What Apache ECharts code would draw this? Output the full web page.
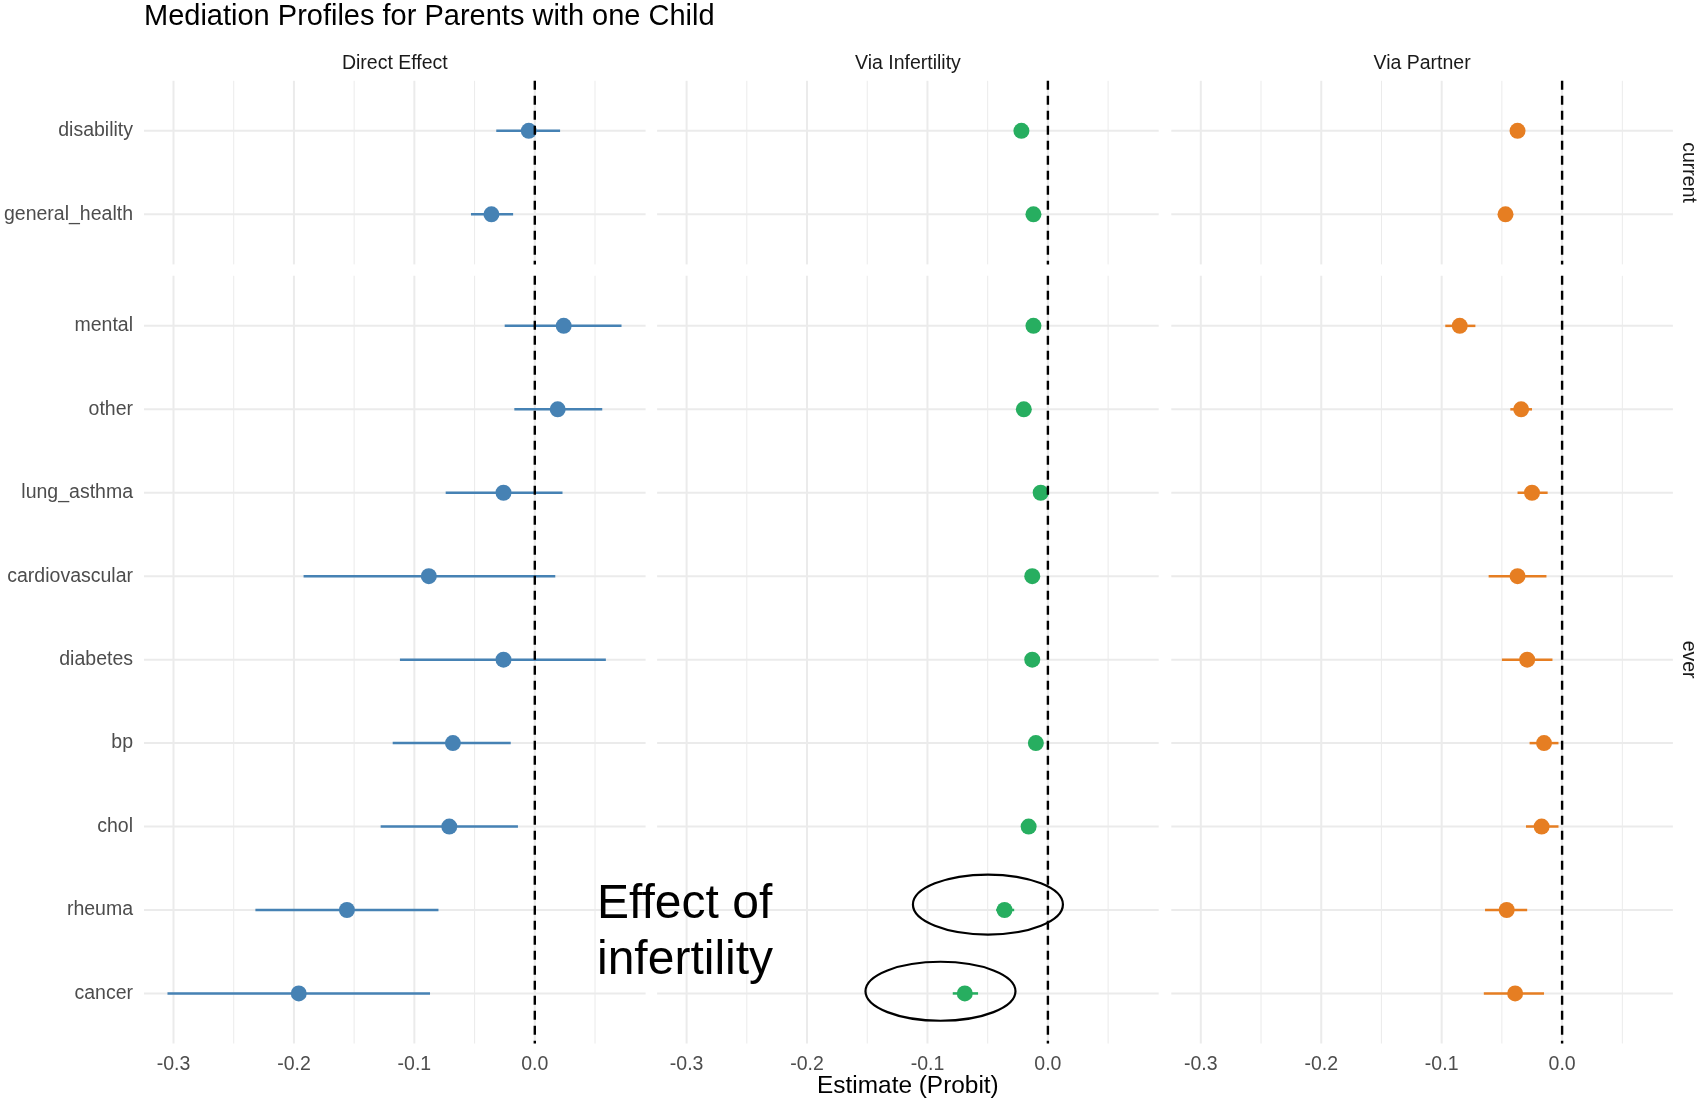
<!DOCTYPE html>
<html><head><meta charset="utf-8">
<script src="https://cdn.jsdelivr.net/npm/echarts@6/dist/echarts.min.js"></script>
<style>html,body{margin:0;padding:0;background:#fff}#c{width:1701px;height:1103px}</style>
</head><body><div id="c"></div>
<script>
// ---------- data ----------
const chartTitle = 'Mediation Profiles for Parents with one Child';
const xAxisTitle = 'Estimate (Probit)';
const panelNames = ['Direct Effect', 'Via Infertility', 'Via Partner'];
const groupNames = ['current', 'ever'];
const currentConditions = ['disability', 'general_health'];
const everConditions = ['mental', 'other', 'lung_asthma', 'cardiovascular', 'diabetes', 'bp', 'chol', 'rheuma', 'cancer'];
const xTickValues = [-0.3, -0.2, -0.1, 0.0];
const xMinorValues = [-0.25, -0.15, -0.05, 0.05];
const annotationLines = ['Effect of', 'infertility'];

// Direct effect
const directCurrentEst  = [-0.005, -0.036];
const directCurrentLow  = [-0.032, -0.053];
const directCurrentHigh = [0.021, -0.018];
const directEverEst  = [0.024, 0.019, -0.026, -0.088, -0.026, -0.068, -0.071, -0.156, -0.196];
const directEverLow  = [-0.025, -0.017, -0.074, -0.192, -0.112, -0.118, -0.128, -0.232, -0.305];
const directEverHigh = [0.072, 0.056, 0.023, 0.017, 0.059, -0.020, -0.014, -0.080, -0.087];

// Via infertility
const infertCurrentEst  = [-0.022, -0.012];
const infertCurrentLow  = [-0.024, -0.014];
const infertCurrentHigh = [-0.020, -0.010];
const infertEverEst  = [-0.012, -0.020, -0.006, -0.013, -0.013, -0.010, -0.016, -0.036, -0.069];
const infertEverLow  = [-0.014, -0.022, -0.008, -0.016, -0.016, -0.012, -0.018, -0.043, -0.079];
const infertEverHigh = [-0.010, -0.018, -0.004, -0.010, -0.010, -0.008, -0.014, -0.028, -0.058];

// Via partner
const partnerCurrentEst  = [-0.037, -0.047];
const partnerCurrentLow  = [-0.040, -0.050];
const partnerCurrentHigh = [-0.034, -0.044];
const partnerEverEst  = [-0.085, -0.034, -0.025, -0.037, -0.029, -0.015, -0.017, -0.046, -0.039];
const partnerEverLow  = [-0.097, -0.043, -0.037, -0.061, -0.050, -0.027, -0.030, -0.064, -0.065];
const partnerEverHigh = [-0.072, -0.025, -0.012, -0.013, -0.008, -0.003, -0.003, -0.029, -0.015];

// ---------- layout / style ----------
const FONT = '"Liberation Sans", Arial, Helvetica, sans-serif';
const panelColors = ['#4682B4', '#27AE60', '#E67E22'];
const XMIN = -0.3245, XMAX = 0.092;
const colLeft = [144, 657.1, 1171.3], colW = 501.6;
const rowTop = [80.8, 275.8], rowH = [183.6, 767.7];

const conds = [currentConditions, everConditions];
const estAll = [[directCurrentEst, infertCurrentEst, partnerCurrentEst], [directEverEst, infertEverEst, partnerEverEst]];
const lowAll = [[directCurrentLow, infertCurrentLow, partnerCurrentLow], [directEverLow, infertEverLow, partnerEverLow]];
const highAll = [[directCurrentHigh, infertCurrentHigh, partnerCurrentHigh], [directEverHigh, infertEverHigh, partnerEverHigh]];

const grids = [], xAxes = [], yAxes = [], series = [];

for (let r = 0; r < 2; r++) {
  const cats = conds[r];
  const n = cats.length;
  for (let c = 0; c < 3; c++) {
    const gi = r * 3 + c;
    grids.push({ left: colLeft[c], top: rowTop[r], width: colW, height: rowH[r], containLabel: false });
    xAxes.push({
      type: 'value', gridIndex: gi, min: XMIN, max: XMAX,
      axisLine: { show: false }, axisTick: { show: false }, splitLine: { show: false },
      axisLabel: {
        show: r === 1, customValues: xTickValues, margin: 11,
        formatter: v => v.toFixed(1), color: '#4D4D4D', fontSize: 19.5, fontFamily: FONT
      }
    });
    yAxes.push({
      type: 'value', gridIndex: gi, min: -0.6, max: n - 0.4, inverse: true,
      axisLine: { show: false }, axisTick: { show: false }, splitLine: { show: false },
      axisLabel: {
        show: c === 0, customValues: cats.map((_, i) => i), margin: 11,
        formatter: v => cats[Math.round(v)], color: '#4D4D4D', fontSize: 19.5, fontFamily: FONT
      }
    });
    // gridlines
    const gridData = [];
    xTickValues.forEach(v => gridData.push([v, 0]));
    xMinorValues.forEach(v => gridData.push([v, 1]));
    cats.forEach((_, i) => gridData.push([i, 2]));
    series.push({
      type: 'custom', xAxisIndex: gi, yAxisIndex: gi, z: 1, silent: true,
      data: gridData,
      renderItem: (params, api) => {
        const v = api.value(0), kind = api.value(1);
        let p1, p2, style;
        if (kind === 2) {
          p1 = api.coord([XMIN, v]); p2 = api.coord([XMAX, v]);
          style = { stroke: '#EBEBEB', lineWidth: 2 };
        } else {
          p1 = api.coord([v, -0.6]); p2 = api.coord([v, n - 0.4]);
          style = { stroke: '#EBEBEB', lineWidth: kind === 0 ? 2 : 1 };
        }
        return { type: 'line', shape: { x1: p1[0], y1: p1[1], x2: p2[0], y2: p2[1] }, style };
      }
    });
    // error bars
    const ebData = estAll[r][c].map((e, i) => [lowAll[r][c][i], highAll[r][c][i], i]);
    series.push({
      type: 'custom', xAxisIndex: gi, yAxisIndex: gi, z: 2, silent: true,
      data: ebData, encode: { x: [0, 1], y: 2 },
      renderItem: (params, api) => {
        const p1 = api.coord([api.value(0), api.value(2)]);
        const p2 = api.coord([api.value(1), api.value(2)]);
        return { type: 'line', shape: { x1: p1[0], y1: p1[1], x2: p2[0], y2: p2[1] },
          style: { stroke: panelColors[c], lineWidth: 2.5 } };
      }
    });
    // points
    series.push({
      type: 'scatter', xAxisIndex: gi, yAxisIndex: gi, z: 3, silent: true,
      symbol: 'circle', symbolSize: 16,
      itemStyle: { color: panelColors[c], opacity: 1 },
      data: estAll[r][c].map((e, i) => [e, i])
    });
    // zero reference
    series.push({
      type: 'custom', xAxisIndex: gi, yAxisIndex: gi, z: 4, silent: true,
      data: [[0]],
      renderItem: (params, api) => {
        const p1 = api.coord([api.value(0), -0.6]);
        const p2 = api.coord([api.value(0), n - 0.4]);
        return { type: 'line', shape: { x1: p1[0], y1: p1[1], x2: p2[0], y2: p2[1] },
          style: { stroke: '#000', lineWidth: 2.4, lineDash: [9, 6] } };
      }
    });
  }
}

const texts = [];
texts.push({ type: 'text', x: 144, y: 17, style: { text: chartTitle, font: '29px ' + FONT, fill: '#000', textAlign: 'left', textVerticalAlign: 'middle' } });
panelNames.forEach((p, c) => texts.push({ type: 'text', x: colLeft[c] + colW / 2, y: 63.5,
  style: { text: p, font: '19.5px ' + FONT, fill: '#1A1A1A', textAlign: 'center', textVerticalAlign: 'middle' } }));
groupNames.forEach((g, r) => texts.push({ type: 'text', x: 1688, y: rowTop[r] + rowH[r] / 2, rotation: -Math.PI / 2,
  style: { text: g, font: '19.5px ' + FONT, fill: '#1A1A1A', textAlign: 'center', textVerticalAlign: 'middle' } }));
texts.push({ type: 'text', x: colLeft[1] + colW / 2, y: 1086,
  style: { text: xAxisTitle, font: '24.4px ' + FONT, fill: '#000', textAlign: 'center', textVerticalAlign: 'middle' } });

const chart = echarts.init(document.getElementById('c'), null, { renderer: 'canvas' });
chart.setOption({
  animation: false, backgroundColor: '#fff',
  grid: grids, xAxis: xAxes, yAxis: yAxes, series: series, graphic: texts
});

// annotations positioned through the middle-bottom grid's scales
const ePos1 = chart.convertToPixel({ gridIndex: 4 }, [-0.0498, 6.935]);
const ePos2 = chart.convertToPixel({ gridIndex: 4 }, [-0.0892, 7.974]);
const ann = [
  { type: 'ellipse', shape: { cx: ePos1[0], cy: ePos1[1], rx: 75, ry: 30 }, style: { fill: 'none', stroke: '#000', lineWidth: 2.2 }, z: 100 },
  { type: 'ellipse', shape: { cx: ePos2[0], cy: ePos2[1], rx: 75, ry: 29.5 }, style: { fill: 'none', stroke: '#000', lineWidth: 2.2 }, z: 100 },
  { type: 'text', x: 597, y: 904.5, z: 100, style: { text: annotationLines[0], font: '48px ' + FONT, fill: '#000', textAlign: 'left', textVerticalAlign: 'middle' } },
  { type: 'text', x: 597, y: 961, z: 100, style: { text: annotationLines[1], font: '48px ' + FONT, fill: '#000', textAlign: 'left', textVerticalAlign: 'middle' } }
];
chart.setOption({ graphic: texts.concat(ann) });
</script></body></html>
